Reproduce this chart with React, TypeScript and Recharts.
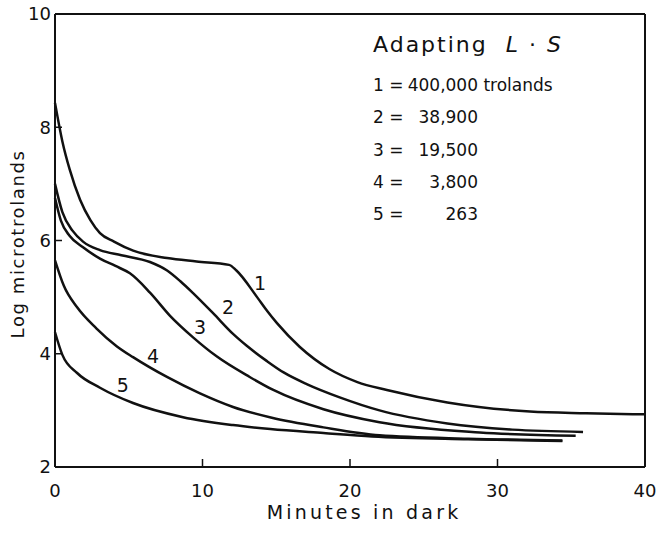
import React from 'react'
import { LineChart, Line, XAxis, YAxis, ReferenceLine, ReferenceDot } from 'recharts'

// Dark adaptation curves (minutes in dark vs log microtrolands)
const curve1X = [0, 0.5, 1.0, 1.7, 2.4, 3.05, 4.0, 5.3, 7.6, 9.6, 11.8, 12.3, 13.7, 14.4, 15.05, 16.6, 18.6, 20.5, 22.5, 26.6, 32.2, 36, 40]
const curve1Y = [8.43, 7.75, 7.25, 6.72, 6.36, 6.13, 5.98, 5.82, 5.69, 5.63, 5.57, 5.47, 5.0, 4.75, 4.54, 4.12, 3.73, 3.5, 3.36, 3.14, 2.98, 2.95, 2.93]

const curve2X = [0, 0.5, 1.2, 1.9, 3.05, 4.5, 6.44, 7.6, 8.5, 9.36, 10.7, 12.07, 13.0, 14.37, 15.5, 17.1, 19.3, 22.0, 26.6, 31, 35.8]
const curve2Y = [7.0, 6.5, 6.17, 5.98, 5.83, 5.74, 5.62, 5.47, 5.28, 5.07, 4.72, 4.35, 4.14, 3.87, 3.67, 3.46, 3.23, 3.0, 2.77, 2.66, 2.62]

const curve3X = [0, 0.4, 1.0, 1.9, 3.05, 4.1, 5.08, 6.44, 7.8, 9.36, 10.98, 13.2, 14.8, 18.2, 22.0, 28.8, 35.3]
const curve3Y = [6.75, 6.35, 6.08, 5.88, 5.68, 5.55, 5.42, 5.08, 4.67, 4.29, 3.95, 3.59, 3.36, 3.02, 2.79, 2.61, 2.55]

const curve4X = [0, 0.6, 1.5, 2.8, 4.2, 5.29, 7.59, 9.83, 12.07, 14.7, 18.2, 22.0, 28, 34.4]
const curve4Y = [5.65, 5.2, 4.82, 4.45, 4.13, 3.94, 3.59, 3.3, 3.06, 2.87, 2.7, 2.56, 2.5, 2.47]

const curve5X = [0, 0.5, 1.5, 3.05, 5.29, 8.68, 12.07, 14.6, 18.2, 21.5, 28, 34.4]
const curve5Y = [4.38, 3.98, 3.66, 3.4, 3.13, 2.88, 2.74, 2.67, 2.6, 2.54, 2.49, 2.46]

// curve number labels (placed in data units)
const labelText = ['1', '2', '3', '4', '5']
const labelX = [13.9, 11.73, 9.83, 6.64, 4.6]
const labelY = [5.25, 4.82, 4.47, 3.95, 3.44]

const xTicks = [0, 10, 20, 30, 40]
const yTicks = [2, 4, 6, 8, 10]

const legendNums = ['1', '2', '3', '4', '5']
const legendValues = ['400,000', '38,900', '19,500', '3,800', '263']

const FONT = '"DejaVu Sans", sans-serif'
const INK = '#111'

const zip = (xs: number[], ys: number[]) => xs.map((x, i) => ({ x, y: ys[i] }))
const series = [zip(curve1X, curve1Y), zip(curve2X, curve2Y), zip(curve3X, curve3Y), zip(curve4X, curve4Y), zip(curve5X, curve5Y)]

const XTick = (props: any) => {
  const { x, y, payload } = props
  const v = payload.value
  return (
    <g>
      {v > 0 && v < 40 && <line x1={x} x2={x} y1={y} y2={y - 8} stroke={INK} strokeWidth={1.5} />}
      <text x={x} y={y + 30} textAnchor="middle" fontFamily={FONT} fontSize={18} fill={INK}>{v}</text>
    </g>
  )
}

const YTick = (props: any) => {
  const { x, y, payload } = props
  const v = payload.value
  return (
    <g>
      {v > 2 && v < 10 && <line x1={x} x2={x + 7} y1={y} y2={y} stroke={INK} strokeWidth={1.5} />}
      <text x={x - 4} y={y} dy="0.36em" textAnchor="end" fontFamily={FONT} fontSize={18} fill={INK}>{v}</text>
    </g>
  )
}

export default function App() {
  return (
    <div style={{ position: 'absolute', left: 0, top: 0, width: 656, height: 534, background: '#fff', fontFamily: FONT, color: INK }}>
      <LineChart width={656} height={534} margin={{ top: 14, right: 11, bottom: 66, left: 54 }}>
        <XAxis
          dataKey="x"
          type="number"
          domain={[0, 40]}
          ticks={xTicks}
          height={1}
          tickSize={0}
          tickMargin={0}
          tick={XTick}
          axisLine={{ stroke: INK, strokeWidth: 2 }}
          allowDuplicatedCategory={false}
        />
        <YAxis
          type="number"
          domain={[2, 10]}
          ticks={yTicks}
          width={1}
          tickSize={0}
          tickMargin={0}
          tick={YTick}
          axisLine={{ stroke: INK, strokeWidth: 2 }}
        />
        <ReferenceLine y={10} stroke={INK} strokeWidth={2} />
        <ReferenceLine x={40} stroke={INK} strokeWidth={2} />
        {series.map((d, i) => (
          <Line
            key={i}
            data={d}
            dataKey="y"
            type="monotone"
            stroke={INK}
            strokeWidth={2.5}
            dot={false}
            activeDot={false}
            isAnimationActive={false}
          />
        ))}
        {labelText.map((t, i) => (
          <ReferenceDot
            key={t}
            x={labelX[i]}
            y={labelY[i]}
            r={0}
            fill="none"
            stroke="none"
            label={{ value: t, position: 'center', fontSize: 19, fill: INK, fontFamily: FONT }}
          />
        ))}
      </LineChart>

      <div style={{ position: 'absolute', left: -132, top: 232, width: 300, textAlign: 'center', fontSize: 18, letterSpacing: 1.6, transform: 'rotate(-90deg)', lineHeight: '24px' }}>
        Log microtrolands
      </div>
      <div style={{ position: 'absolute', left: 214, top: 500, width: 300, textAlign: 'center', fontSize: 19, letterSpacing: 3.2, lineHeight: '24px' }}>
        Minutes in dark
      </div>

      <div style={{ position: 'absolute', left: 373, top: 32, fontSize: 22, letterSpacing: 2, lineHeight: '26px', whiteSpace: 'nowrap' }}>
        Adapting&nbsp;&nbsp;<i>L</i> · <i>S</i>
      </div>
      {legendNums.map((n, i) => (
        <div key={n} style={{ position: 'absolute', left: 373, top: 73 + i * 32.3, fontSize: 17, lineHeight: '24px', whiteSpace: 'nowrap' }}>
          <span style={{ display: 'inline-block', width: 31 }}>{n} =</span>
          <span style={{ display: 'inline-block', width: 74, textAlign: 'right' }}>{legendValues[i]}</span>
          {i === 0 ? '\u00a0trolands' : ''}
        </div>
      ))}
    </div>
  )
}
